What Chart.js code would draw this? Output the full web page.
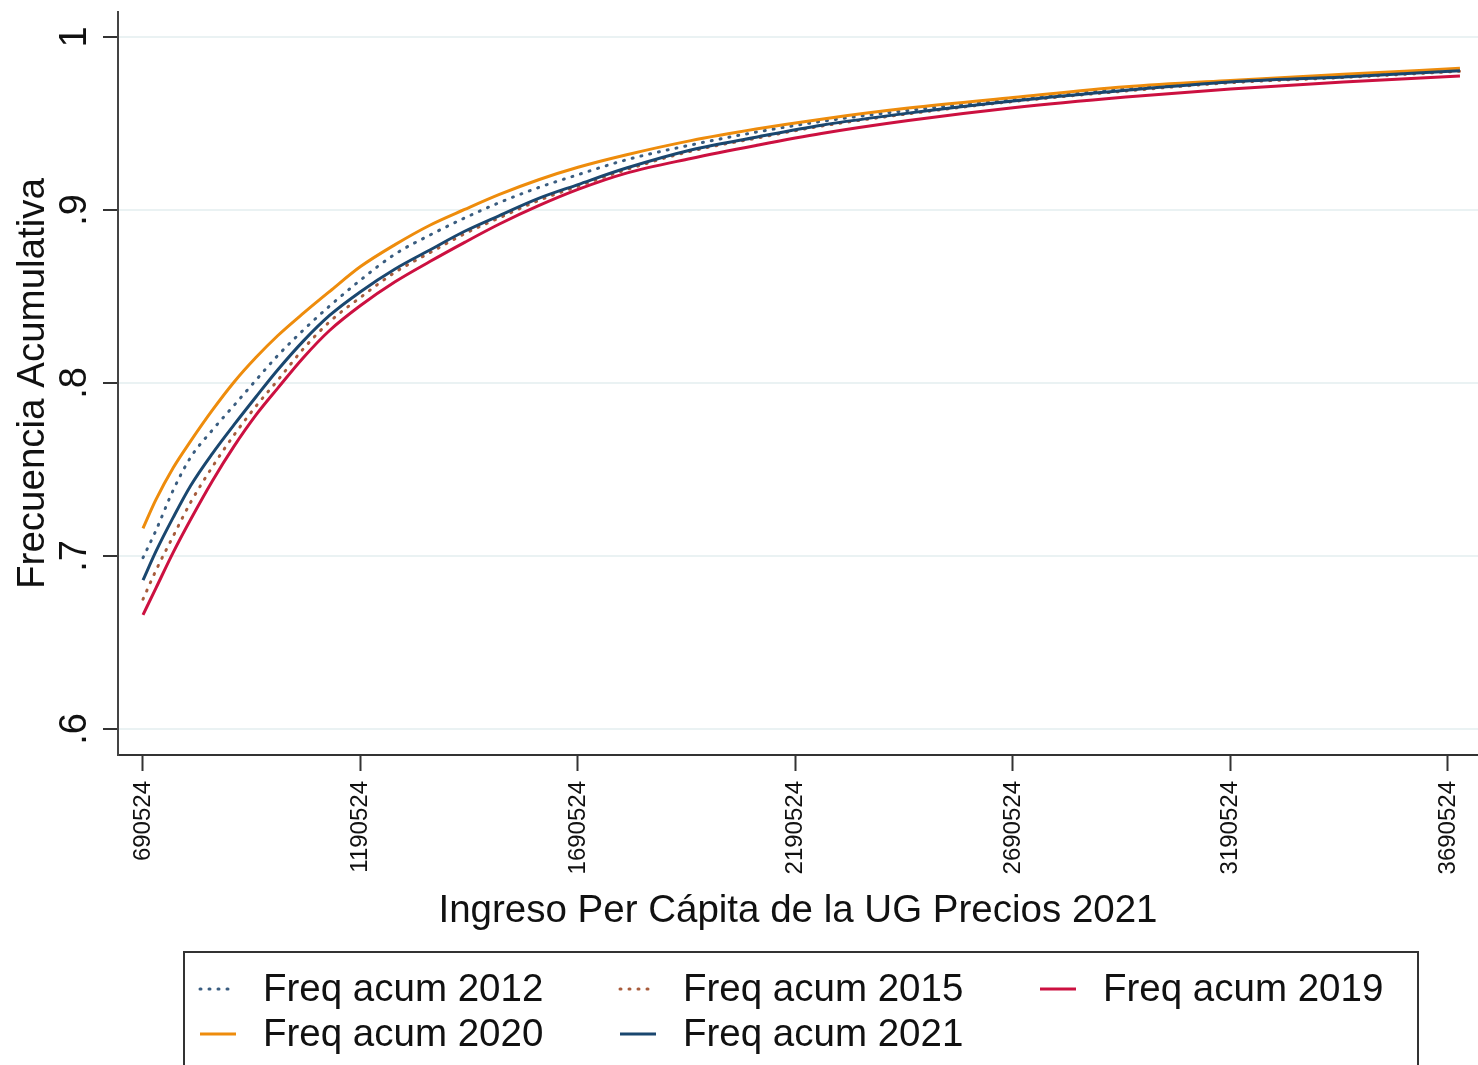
<!DOCTYPE html>
<html>
<head>
<meta charset="utf-8">
<script src="https://cdn.jsdelivr.net/npm/chart.js@4.4.0/dist/chart.umd.min.js"></script>
<style>
  html, body { margin: 0; padding: 0; background: #fff; }
  canvas { display: block; }
</style>
</head>
<body>
<canvas id="graficoFrecuencia" width="1478" height="1065"></canvas>
<script>
// Ingreso per cápita (eje x)
const ingresos = [690524, 720000, 760000, 800000, 850000, 900000, 950000, 1000000, 1060000, 1120000,
  1190524, 1270000, 1350000, 1430000, 1510000, 1600000, 1690524, 1800000, 1950000, 2100000,
  2250000, 2450000, 2690524, 2950000, 3190524, 3450000, 3718000];

// Frecuencia acumulada por año
const freq2012 = [0.699, 0.7146, 0.7381, 0.757, 0.7728, 0.7871, 0.8016, 0.8158, 0.8308, 0.8446,
  0.8595, 0.8745, 0.8855, 0.8954, 0.9043, 0.913, 0.9204, 0.9289, 0.9376, 0.945,
  0.9512, 0.9576, 0.9638, 0.9703, 0.9745, 0.9777, 0.9812];
const freq2015 = [0.675, 0.6915, 0.7115, 0.731, 0.7515, 0.77, 0.7865, 0.8015, 0.82, 0.8355,
  0.8495, 0.864, 0.8753, 0.8863, 0.8955, 0.9055, 0.9137, 0.9232, 0.934, 0.9415,
  0.9485, 0.9556, 0.9627, 0.9688, 0.9736, 0.9766, 0.9802];
const freq2019 = [0.666, 0.6813, 0.7021, 0.7211, 0.7434, 0.7635, 0.7814, 0.7969, 0.8149, 0.8305,
  0.8448, 0.8585, 0.8702, 0.8813, 0.8919, 0.9025, 0.9119, 0.9212, 0.9298, 0.9373,
  0.9442, 0.9517, 0.9591, 0.9653, 0.97, 0.974, 0.9775];
const freq2020 = [0.716, 0.7324, 0.751, 0.7664, 0.7843, 0.8006, 0.8147, 0.8273, 0.8405, 0.853,
  0.8673, 0.88, 0.8912, 0.9003, 0.909, 0.9175, 0.9247, 0.9318, 0.9401, 0.9468,
  0.9525, 0.9589, 0.965, 0.9712, 0.9749, 0.9784, 0.9819];
const freq2021 = [0.686, 0.7025, 0.7223, 0.7406, 0.7592, 0.7759, 0.7919, 0.8075, 0.8245, 0.8392,
  0.8528, 0.8659, 0.8769, 0.8877, 0.8968, 0.9067, 0.9147, 0.9241, 0.9347, 0.9421,
  0.949, 0.956, 0.963, 0.9692, 0.974, 0.9769, 0.9805];

// Marcas de los ejes
const ticksX = [690524, 1190524, 1690524, 2190524, 2690524, 3190524, 3690524];
const ticksY = [0.6, 0.7, 0.8, 0.9, 1];
const etiquetasY = ['.6', '.7', '.8', '.9', '1'];

const fuente = '"Liberation Sans", Arial, sans-serif';

const puntos = serie => ingresos.map((x, i) => ({ x: x, y: serie[i] }));

// Leyenda estilo Stata (3 columnas, recuadro)
const leyenda = {
  id: 'leyenda',
  afterDraw(chart) {
    const c = chart.ctx;
    c.save();
    c.strokeStyle = '#333';
    c.lineWidth = 2;
    c.strokeRect(184, 952, 1234, 140);
    c.font = '38.5px ' + fuente;
    c.fillStyle = '#111';
    c.textBaseline = 'middle';
    chart.data.datasets.forEach((ds, i) => {
      const col = i % 3;
      const fila = Math.floor(i / 3);
      const x = 200 + col * 420;
      const y = 989 + fila * 45;
      c.beginPath();
      c.strokeStyle = ds.borderColor;
      c.lineWidth = ds.borderWidth;
      c.lineCap = ds.borderCapStyle || 'butt';
      c.setLineDash(ds.borderDash || []);
      c.moveTo(x, y);
      c.lineTo(x + 36, y);
      c.stroke();
      c.setLineDash([]);
      c.fillText(ds.label, x + 63, y + 1);
    });
    c.restore();
  }
};

const ctx = document.getElementById('graficoFrecuencia').getContext('2d');

new Chart(ctx, {
  type: 'line',
  data: {
    datasets: [
      { label: 'Freq acum 2012', data: puntos(freq2012), borderColor: '#3a5d80', borderWidth: 3,
        borderDash: [1, 8], borderCapStyle: 'round', order: 5 },
      { label: 'Freq acum 2015', data: puntos(freq2015), borderColor: '#a85c3c', borderWidth: 3,
        borderDash: [1, 8], borderCapStyle: 'round', order: 4 },
      { label: 'Freq acum 2019', data: puntos(freq2019), borderColor: '#cc1040', borderWidth: 3, order: 3 },
      { label: 'Freq acum 2020', data: puntos(freq2020), borderColor: '#ee8c0c', borderWidth: 3, order: 2 },
      { label: 'Freq acum 2021', data: puntos(freq2021), borderColor: '#1a476f', borderWidth: 3, order: 1 }
    ]
  },
  options: {
    responsive: false,
    animation: false,
    layout: { padding: { top: 12, left: 0, right: 0, bottom: 130 } },
    elements: { point: { radius: 0 }, line: { cubicInterpolationMode: 'monotone', fill: false } },
    plugins: {
      legend: { display: false },
      tooltip: { enabled: false }
    },
    scales: {
      x: {
        type: 'linear',
        min: 633053,
        max: 3759490,
        afterBuildTicks: s => { s.ticks = ticksX.map(v => ({ value: v })); },
        afterFit: s => { s.height = 180; s.paddingLeft = 0; s.paddingRight = 0; },
        ticks: {
          minRotation: 90, maxRotation: 90, padding: 10,
          color: '#111', font: { family: fuente, size: 24 },
          callback: v => String(v)
        },
        grid: { drawOnChartArea: false, tickLength: 16, tickColor: '#333', tickWidth: 2 },
        border: { color: '#333', width: 2 },
        title: {
          display: true, text: 'Ingreso Per Cápita de la UG Precios 2021',
          color: '#111', font: { family: fuente, size: 38.5 }, padding: { top: 0, bottom: 1 }
        }
      },
      y: {
        type: 'linear',
        min: 0.58497,
        max: 1.01445,
        afterBuildTicks: s => { s.ticks = ticksY.map(v => ({ value: v })); },
        afterFit: s => { s.width = 118; s.paddingTop = 0; s.paddingBottom = 0; },
        ticks: {
          minRotation: 90, maxRotation: 90, padding: 12, crossAlign: 'center',
          color: '#111', font: { family: fuente, size: 38 },
          callback: (v, i) => etiquetasY[i]
        },
        grid: { color: '#eaf2f3', lineWidth: 2, tickLength: 15, tickColor: '#333', tickWidth: 2 },
        border: { color: '#444', width: 2 },
        title: {
          display: true, text: 'Frecuencia Acumulativa',
          color: '#111', font: { family: fuente, size: 38.5 }, padding: { top: 10, bottom: 0 }
        }
      }
    }
  },
  plugins: [leyenda]
});
</script>
</body>
</html>
